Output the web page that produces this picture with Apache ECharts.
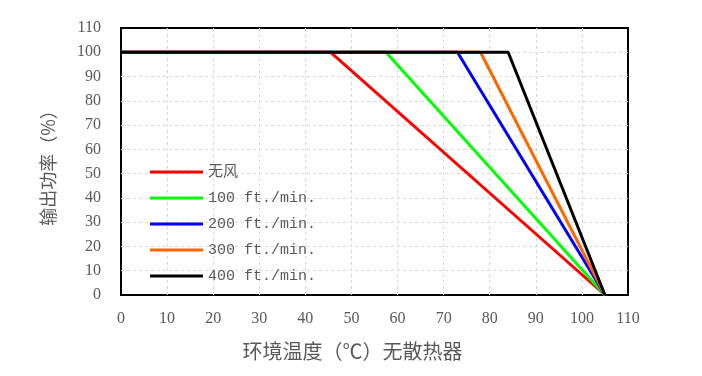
<!DOCTYPE html>
<html>
<head>
<meta charset="utf-8">
<script src="https://cdn.jsdelivr.net/npm/echarts@6/dist/echarts.min.js"></script>
<style>
  html, body { margin: 0; padding: 0; background: #fff; }
  #chart { width: 702px; height: 376px; }
</style>
</head>
<body>
<div id="chart"></div>
<script>
const seriesNames = ['无风', '100 ft./min.', '200 ft./min.', '300 ft./min.', '400 ft./min.'];
const seriesColors = ['#ff0000', '#00ff00', '#0000ff', '#ff6600', '#000000'];
// derating curves: [ambient temperature, output power %]
const noAir = [[0, 100], [45.5, 100], [105, 0]];
const air100 = [[0, 100], [57.5, 100], [105, 0]];
const air200 = [[0, 100], [73, 100], [105, 0]];
const air300 = [[0, 100], [78, 100], [105, 0]];
const air400 = [[0, 100], [84, 100], [105, 0]];
const curves = [noAir, air100, air200, air300, air400];

const labelFont = '"Liberation Serif", "Noto Sans CJK SC", serif';
const legendFont = '"Liberation Mono", "Noto Sans CJK SC", monospace';
const cjkFont = '"Noto Sans CJK SC", "Liberation Serif", serif';

const chart = echarts.init(document.getElementById('chart'));

const gridLine = { show: true, showMinLine: false, showMaxLine: false, lineStyle: { color: '#d9d9d9', type: [3, 3], width: 1 } };

chart.setOption({
  animation: false,
  grid: { left: 121, right: 74, top: 28, bottom: 81, show: true, borderColor: '#000', borderWidth: 2 },
  legend: {
    data: seriesNames,
    orient: 'vertical',
    left: 145,
    top: 157,
    icon: 'rect',
    itemWidth: 53,
    itemHeight: 3,
    itemGap: 6,
    textStyle: { fontFamily: legendFont, fontSize: 15, color: '#595959', lineHeight: 20 }
  },
  xAxis: {
    type: 'value',
    min: 0,
    max: 110,
    interval: 10,
    name: '环境温度（℃）无散热器',
    nameLocation: 'middle',
    nameGap: 46,
    nameTextStyle: { fontFamily: cjkFont, fontSize: 20, color: '#595959', padding: [0, 44, 0, 0] },
    axisLine: { show: false },
    axisTick: { show: false },
    axisLabel: { fontFamily: labelFont, fontSize: 16, color: '#595959', margin: 16 },
    splitLine: gridLine
  },
  yAxis: {
    type: 'value',
    min: 0,
    max: 110,
    interval: 10,
    name: '输出功率（%）',
    nameLocation: 'middle',
    nameGap: 64,
    nameTextStyle: { fontFamily: cjkFont, fontSize: 18, color: '#595959', padding: [0, 4, 0, 0] },
    axisLine: { show: false },
    axisTick: { show: false },
    axisLabel: { fontFamily: labelFont, fontSize: 16, color: '#595959', margin: 20 },
    splitLine: gridLine
  },
  series: curves.map((data, i) => ({
    name: seriesNames[i],
    type: 'line',
    data: data,
    symbol: 'none',
    lineStyle: { color: seriesColors[i], width: 3 },
    itemStyle: { color: seriesColors[i] }
  }))
});
</script>
</body>
</html>
